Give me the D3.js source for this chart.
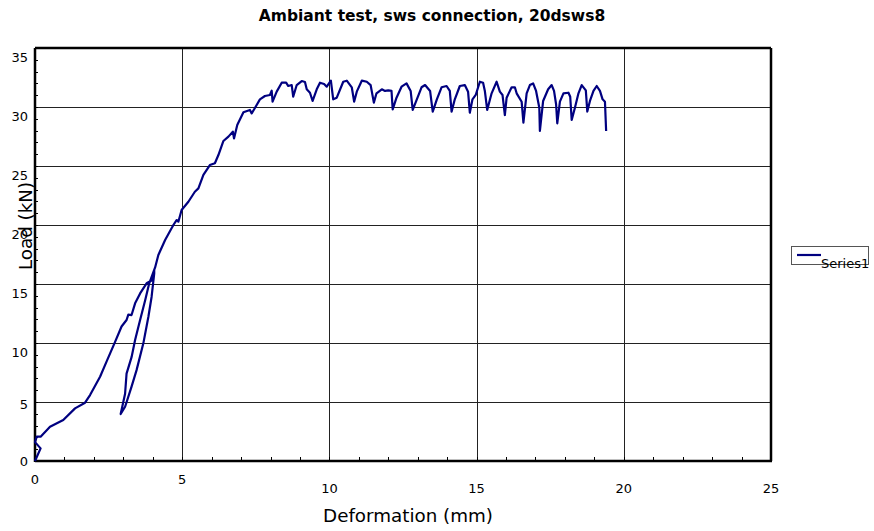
<!DOCTYPE html>
<html lang="en">
<head>
	<meta charset="UTF-8"/>
	<title>Ambiant test, sws connection, 20dsws8</title>
	<script src="https://d3js.org/d3.v7.min.js"></script>
	<style>
		body { margin: 0; background: #fff; }
		text { font-family: "DejaVu Sans", sans-serif; }
	</style>
</head>
<body>
	<script>
		// deformation (mm) and load (kN), in test order
		var deformation = [
			0, 0.19, 0, 0.06, 0.19, 0.51, 0.96, 1.36, 1.70, 1.87, 2.21, 2.43, 2.72, 2.94, 3.11, 3.17, 3.28, 3.40, 3.57, 3.79, 3.96, 4.05,
			4.05, 3.96, 3.85, 3.68, 3.45, 3.28, 3.06, 2.91,
			3.06, 3.11, 3.28, 3.40, 3.57, 3.74, 3.88, 4.08, 4.19, 4.42, 4.70, 4.81, 4.87, 4.98, 5.21, 5.43, 5.55, 5.72, 5.94, 6.11, 6.23,
			6.40, 6.57, 6.72, 6.76, 6.87, 7.08, 7.30, 7.36, 7.45, 7.64, 7.81, 7.98, 8.04, 8.07, 8.21, 8.38, 8.53, 8.60, 8.72, 8.77, 8.89,
			9.06, 9.17, 9.23, 9.34, 9.43, 9.57, 9.68, 9.82, 9.91, 10.05, 10.13, 10.25, 10.47, 10.59, 10.76, 10.84, 10.93, 11.10, 11.27,
			11.40, 11.51, 11.60, 11.78, 11.89, 12.00, 12.11, 12.15, 12.28, 12.45, 12.62, 12.76, 12.83, 12.97, 13.13, 13.25, 13.42, 13.51,
			13.65, 13.81, 13.98, 14.09, 14.15, 14.26, 14.43, 14.60, 14.71, 14.77, 14.86, 14.97, 15.11, 15.22, 15.28, 15.36, 15.51, 15.68,
			15.79, 15.88, 15.96, 16.02, 16.19, 16.30, 16.36, 16.53, 16.59, 16.70, 16.81, 16.92, 17.02, 17.13, 17.15, 17.26, 17.43, 17.55,
			17.63, 17.70, 17.74, 17.83, 17.95, 18.12, 18.18, 18.23, 18.34, 18.46, 18.57, 18.71, 18.76, 18.85, 18.97, 19.08, 19.19, 19.28,
			19.36, 19.40
		];
		var load = [
			0, 1.07, 1.6, 2.06, 2.06, 2.9, 3.47, 4.46, 4.94, 5.59, 7.14, 8.42, 10.1, 11.4, 11.95, 12.4, 12.37, 13.36, 14.2, 15.06, 15.3, 16.2,
			15.9, 13.9, 12.2, 9.97, 7.7, 6.3, 4.6, 3.98,
			5.7, 7.4, 8.8, 10.25, 11.95, 13.6, 15.06, 16.4, 17.46, 18.73, 20.0, 20.42, 20.28, 21.27, 21.97, 22.82, 23.1, 24.24, 25.08, 25.23, 25.93,
			27.12, 27.49, 27.91, 27.34, 28.47, 29.55, 29.75, 29.46, 29.83, 30.65, 30.93, 31.02, 31.38, 30.45, 31.30, 32.06, 32.06, 31.78, 31.86, 30.87, 31.86,
			32.20, 32.12, 31.50, 31.21, 30.51, 31.50, 32.06, 31.95, 31.72, 32.23, 30.65, 30.79, 32.14, 32.23, 31.67, 30.45, 31.30, 32.23, 32.14,
			31.86, 30.37, 31.16, 31.50, 31.36, 31.41, 31.36, 29.80, 30.79, 31.72, 32.00, 31.36, 29.75, 30.65, 31.67, 31.86, 31.36, 29.61,
			30.65, 31.67, 31.78, 31.36, 29.61, 30.65, 31.78, 31.86, 31.30, 29.52, 30.65, 31.02, 32.14, 32.06, 31.36, 29.75, 31.16, 32.14,
			31.30, 31.02, 29.32, 30.79, 31.67, 31.67, 31.16, 30.45, 28.67, 31.16, 31.86, 32.00, 31.36, 29.94, 27.97, 30.51, 31.50, 31.86,
			31.36, 30.23, 28.62, 30.45, 31.16, 31.21, 30.87, 28.90, 29.94, 31.16, 31.86, 31.41, 29.61, 30.51, 31.36, 31.78, 31.36, 30.65,
			30.45, 27.97
		];
		var xTicks = [0, 5, 10, 15, 20, 25];
		var yTicks = [0, 5, 10, 15, 20, 25, 30, 35];
		var seriesName = "Series1";

		var w = 874;
		var h = 531;
		var padL = 35, padR = 771, padT = 48, padB = 461;

		var xScale = d3.scaleLinear().domain([0, 25]).range([padL, padR]);
		var yScale = d3.scaleLinear().domain([0, 35]).range([padB, padT]);

		var svg = d3.select("body").append("svg").attr("width", w).attr("height", h);

		// gridlines
		svg.selectAll(".vgrid").data(xTicks.slice(1, -1)).enter().append("line")
			.attr("x1", function(d){ return Math.round(xScale(d)) + 0.5; })
			.attr("x2", function(d){ return Math.round(xScale(d)) + 0.5; })
			.attr("y1", padT).attr("y2", padB)
			.attr("stroke", "#222").attr("stroke-width", 1);
		svg.selectAll(".hgrid").data(yTicks.slice(1, -1)).enter().append("line")
			.attr("y1", function(d){ return Math.round(yScale(d)) + 0.5; })
			.attr("y2", function(d){ return Math.round(yScale(d)) + 0.5; })
			.attr("x1", padL).attr("x2", padR)
			.attr("stroke", "#222").attr("stroke-width", 1);

		// minor ticks, inside the plot
		svg.selectAll(".xminor").data(d3.range(1, 25)).enter().append("line")
			.attr("x1", function(d){ return Math.round(xScale(d)) + 0.5; })
			.attr("x2", function(d){ return Math.round(xScale(d)) + 0.5; })
			.attr("y1", padB).attr("y2", padB - 4)
			.attr("stroke", "#000");
		svg.selectAll(".yminor").data(d3.range(1, 35)).enter().append("line")
			.attr("y1", function(d){ return Math.round(yScale(d)) + 0.5; })
			.attr("y2", function(d){ return Math.round(yScale(d)) + 0.5; })
			.attr("x1", padL).attr("x2", padL + 3)
			.attr("stroke", "#000");

		// frame
		svg.append("line").attr("x1", padL).attr("x2", padR).attr("y1", padT).attr("y2", padT)
			.attr("stroke", "#000").attr("stroke-width", 2.5);
		svg.append("line").attr("x1", padR).attr("x2", padR).attr("y1", padT).attr("y2", padB)
			.attr("stroke", "#000").attr("stroke-width", 2.5);
		svg.append("line").attr("x1", padL).attr("x2", padL).attr("y1", padT).attr("y2", padB + 1)
			.attr("stroke", "#000").attr("stroke-width", 2.5);
		svg.append("line").attr("x1", padL).attr("x2", padR + 1).attr("y1", padB).attr("y2", padB)
			.attr("stroke", "#000").attr("stroke-width", 2.5);

		// tick labels (two-digit labels sit lower, as in the original)
		svg.selectAll(".xlab").data(xTicks).enter().append("text")
			.attr("x", function(d){ return xScale(d); })
			.attr("y", function(d){ return String(d).length > 1 ? 493 : 484; })
			.attr("text-anchor", "middle")
			.attr("font-size", "13px")
			.text(function(d){ return d; });
		svg.selectAll(".ylab").data(yTicks).enter().append("text")
			.attr("x", 28)
			.attr("y", function(d){ return yScale(d) + 5 + (String(d).length > 1 ? 9 : d / 2.5); })
			.attr("text-anchor", "end")
			.attr("font-size", "13px")
			.text(function(d){ return d; });

		// series
		var points = deformation.map(function(d, i){ return [d, load[i]]; });
		var line = d3.line()
			.x(function(d){ return xScale(d[0]); })
			.y(function(d){ return yScale(d[1]); });
		svg.append("path").datum(points)
			.attr("d", line)
			.attr("fill", "none")
			.attr("stroke", "#000080")
			.attr("stroke-width", 2.2)
			.attr("stroke-linejoin", "round");

		// titles
		svg.append("text").attr("x", 432).attr("y", 21)
			.attr("text-anchor", "middle").attr("font-size", "15.5px").attr("font-weight", "bold")
			.text("Ambiant test, sws connection, 20dsws8");
		svg.append("text").attr("x", 408).attr("y", 522)
			.attr("text-anchor", "middle").attr("font-size", "18.3px")
			.text("Deformation (mm)");
		svg.append("text")
			.attr("transform", "translate(32," + 226 + ") rotate(-90)")
			.attr("text-anchor", "middle").attr("font-size", "18.3px")
			.text("Load (kN)");

		// legend
		var legend = svg.append("g");
		legend.append("rect").attr("x", 791.5).attr("y", 246.5).attr("width", 77).attr("height", 18)
			.attr("fill", "#fff").attr("stroke", "#555");
		legend.append("line").attr("x1", 797).attr("x2", 821).attr("y1", 255).attr("y2", 255)
			.attr("stroke", "#000080").attr("stroke-width", 2.2);
		legend.append("text").attr("x", 821).attr("y", 268)
			.attr("font-size", "13px")
			.text(seriesName);
	</script>
</body>
</html>
